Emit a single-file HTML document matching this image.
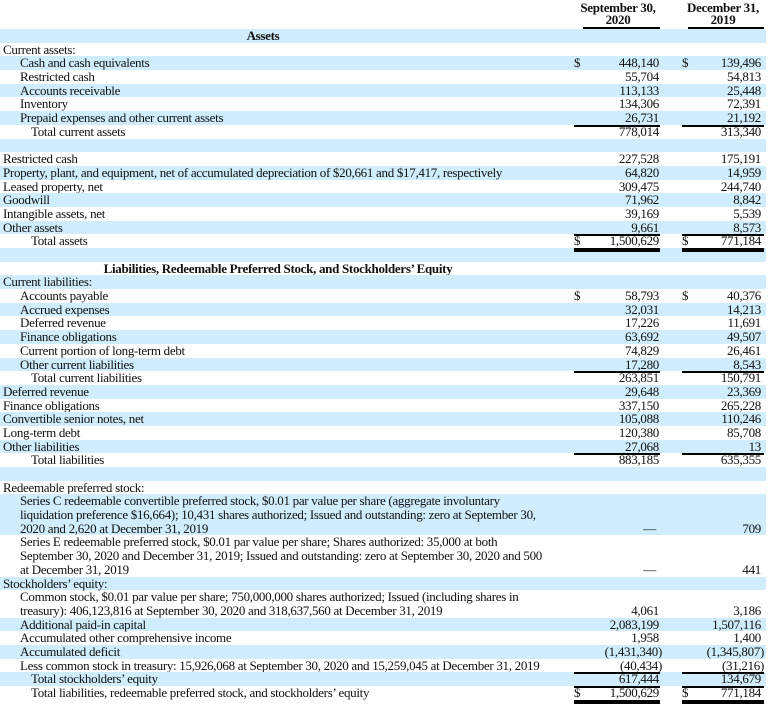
<!DOCTYPE html>
<html><head><meta charset="utf-8"><style>
*{margin:0;padding:0;box-sizing:border-box}
body{width:769px;height:708px;background:#fff;font-family:"Liberation Serif",serif;font-size:13px;color:#111;position:relative;overflow:hidden;letter-spacing:-0.3px}
#t{position:absolute;top:29px;left:0;width:766px}
.r{position:relative;height:13.69px;line-height:13.69px;white-space:nowrap}
.b{background:#cfedfc}
.h2{height:27.38px}.h3{height:41.07px}
.l{position:absolute;left:3px;bottom:0;line-height:13.69px}
.i1{left:20px}.i2{left:31px}
.c{text-align:center;left:0;right:220px;font-weight:bold}
.n1,.n2{position:absolute;bottom:0;text-align:right}
.n1{right:107px}.n2{right:5px}
.d1,.d2{position:absolute;bottom:0}
.d1{left:574px}.d2{left:682px}
.u1,.u2{position:absolute;height:2px;background:#000}
.u1{left:574px;width:86px}.u2{left:682px;width:82px}
.hd{position:absolute;top:2px;font-weight:bold;text-align:center;line-height:12px;font-size:13px}
</style></head><body>
<div class="hd" style="left:574px;width:88px">September 30,<br>2020</div>
<div class="hd" style="left:678px;width:90px">December 31,<br>2019</div>
<div class="u1" style="top:27px;left:583px;width:77px"></div>
<div class="u2" style="top:27px;left:688px;width:76px"></div>
<div id="t">
<div class="r b"><span class="l c" style="right:240px">Assets</span></div>
<div class="r"><span class="l">Current assets:</span></div>
<div class="r b"><span class="l i1">Cash and cash equivalents</span><span class="d1">$</span><span class="n1">448,140</span><span class="d2">$</span><span class="n2">139,496</span></div>
<div class="r"><span class="l i1">Restricted cash</span><span class="n1">55,704</span><span class="n2">54,813</span></div>
<div class="r b"><span class="l i1">Accounts receivable</span><span class="n1">113,133</span><span class="n2">25,448</span></div>
<div class="r"><span class="l i1">Inventory</span><span class="n1">134,306</span><span class="n2">72,391</span></div>
<div class="r b"><span class="l i1">Prepaid expenses and other current assets</span><span class="n1">26,731</span><span class="n2">21,192</span></div>
<div class="r"><span class="l i2">Total current assets</span><span class="n1">778,014</span><span class="n2">313,340</span></div>
<div class="r b"></div>
<div class="r"><span class="l">Restricted cash</span><span class="n1">227,528</span><span class="n2">175,191</span></div>
<div class="r b"><span class="l">Property, plant, and equipment, net of accumulated depreciation of $20,661 and $17,417, respectively</span><span class="n1">64,820</span><span class="n2">14,959</span></div>
<div class="r"><span class="l">Leased property, net</span><span class="n1">309,475</span><span class="n2">244,740</span></div>
<div class="r b"><span class="l">Goodwill</span><span class="n1">71,962</span><span class="n2">8,842</span></div>
<div class="r"><span class="l">Intangible assets, net</span><span class="n1">39,169</span><span class="n2">5,539</span></div>
<div class="r b"><span class="l">Other assets</span><span class="n1">9,661</span><span class="n2">8,573</span></div>
<div class="r"><span class="l i2">Total assets</span><span class="d1">$</span><span class="n1">1,500,629</span><span class="d2">$</span><span class="n2">771,184</span></div>
<div class="r b"></div>
<div class="r"><span class="l c" style="right:210px">Liabilities, Redeemable Preferred Stock, and Stockholders’ Equity</span></div>
<div class="r b"><span class="l">Current liabilities:</span></div>
<div class="r"><span class="l i1">Accounts payable</span><span class="d1">$</span><span class="n1">58,793</span><span class="d2">$</span><span class="n2">40,376</span></div>
<div class="r b"><span class="l i1">Accrued expenses</span><span class="n1">32,031</span><span class="n2">14,213</span></div>
<div class="r"><span class="l i1">Deferred revenue</span><span class="n1">17,226</span><span class="n2">11,691</span></div>
<div class="r b"><span class="l i1">Finance obligations</span><span class="n1">63,692</span><span class="n2">49,507</span></div>
<div class="r"><span class="l i1">Current portion of long-term debt</span><span class="n1">74,829</span><span class="n2">26,461</span></div>
<div class="r b"><span class="l i1">Other current liabilities</span><span class="n1">17,280</span><span class="n2">8,543</span></div>
<div class="r"><span class="l i2">Total current liabilities</span><span class="n1">263,851</span><span class="n2">150,791</span></div>
<div class="r b"><span class="l">Deferred revenue</span><span class="n1">29,648</span><span class="n2">23,369</span></div>
<div class="r"><span class="l">Finance obligations</span><span class="n1">337,150</span><span class="n2">265,228</span></div>
<div class="r b"><span class="l">Convertible senior notes, net</span><span class="n1">105,088</span><span class="n2">110,246</span></div>
<div class="r"><span class="l">Long-term debt</span><span class="n1">120,380</span><span class="n2">85,708</span></div>
<div class="r b"><span class="l">Other liabilities</span><span class="n1">27,068</span><span class="n2">13</span></div>
<div class="r"><span class="l i2">Total liabilities</span><span class="n1">883,185</span><span class="n2">635,355</span></div>
<div class="r b"></div>
<div class="r"><span class="l">Redeemable preferred stock:</span></div>
<div class="r b h3"><span class="l i1">Series C redeemable convertible preferred stock, $0.01 par value per share (aggregate involuntary<br>liquidation preference $16,664); 10,431 shares authorized; Issued and outstanding: zero at September 30,<br>2020 and 2,620 at December 31, 2019</span><span class="n1" style="right:110px">—</span><span class="n2">709</span></div>
<div class="r h3"><span class="l i1">Series E redeemable preferred stock, $0.01 par value per share; Shares authorized: 35,000 at both<br>September 30, 2020 and December 31, 2019; Issued and outstanding: zero at September 30, 2020 and 500<br>at December 31, 2019</span><span class="n1" style="right:110px">—</span><span class="n2">441</span></div>
<div class="r b"><span class="l">Stockholders’ equity:</span></div>
<div class="r h2"><span class="l i1">Common stock, $0.01 par value per share; 750,000,000 shares authorized; Issued (including shares in<br>treasury): 406,123,816 at September 30, 2020 and 318,637,560 at December 31, 2019</span><span class="n1">4,061</span><span class="n2">3,186</span></div>
<div class="r b"><span class="l i1">Additional paid-in capital</span><span class="n1">2,083,199</span><span class="n2">1,507,116</span></div>
<div class="r"><span class="l i1">Accumulated other comprehensive income</span><span class="n1">1,958</span><span class="n2">1,400</span></div>
<div class="r b"><span class="l i1">Accumulated deficit</span><span class="n1" style="right:104px">(1,431,340)</span><span class="n2" style="right:2px">(1,345,807)</span></div>
<div class="r"><span class="l i1">Less common stock in treasury: 15,926,068 at September 30, 2020 and 15,259,045 at December 31, 2019</span><span class="n1" style="right:104px">(40,434)</span><span class="n2" style="right:2px">(31,216)</span></div>
<div class="r b"><span class="l i2">Total stockholders’ equity</span><span class="n1">617,444</span><span class="n2">134,679</span></div>
<div class="r"><span class="l i2">Total liabilities, redeemable preferred stock, and stockholders’ equity</span><span class="d1">$</span><span class="n1">1,500,629</span><span class="d2">$</span><span class="n2">771,184</span></div>
</div>
<div class="u1" style="top:124.5px"></div><div class="u2" style="top:124.5px"></div>
<div class="u1" style="top:234px"></div><div class="u2" style="top:234px"></div>
<div class="u1" style="top:247.5px;height:4px"></div><div class="u2" style="top:247.5px;height:4px"></div>
<div class="u1" style="top:371px"></div><div class="u2" style="top:371px"></div>
<div class="u1" style="top:453px"></div><div class="u2" style="top:453px"></div>
<div class="u1" style="top:672px"></div><div class="u2" style="top:672px"></div>
<div class="u1" style="top:686px"></div><div class="u2" style="top:686px"></div>
<div class="u1" style="top:699.5px;height:4px"></div><div class="u2" style="top:699.5px;height:4px"></div>
</body></html>
